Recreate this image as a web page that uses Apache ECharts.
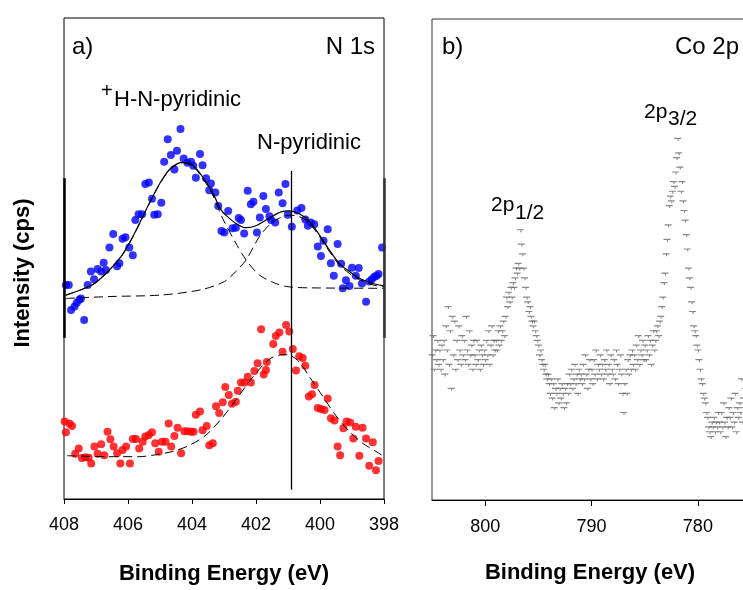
<!DOCTYPE html>
<html>
<head>
<meta charset="utf-8">
<script src="https://cdn.jsdelivr.net/npm/echarts@6/dist/echarts.min.js"></script>
<style>
  html, body { margin: 0; padding: 0; background: #fff; }
  #chart { width: 743px; height: 590px; }
</style>
</head>
<body>
<div id="chart"></div>
<script>
// ---- N 1s, upper spectrum (blue) : binding energy (eV) / intensity (offset units)
const n1sUpperEnergy = [
  407.94,407.85,407.78,407.67,407.60,407.52,407.47,407.37,407.26,407.16,
  407.06,406.95,406.84,406.76,406.69,406.58,406.46,406.34,406.27,406.17,
  406.08,405.96,405.85,405.77,405.67,405.56,405.46,405.35,405.25,405.18,
  405.07,404.96,404.87,404.76,404.66,404.55,404.47,404.36,404.26,404.14,
  404.03,403.96,403.88,403.75,403.67,403.56,403.46,403.41,403.27,403.18,
  403.08,402.99,402.87,402.73,402.63,402.54,402.47,402.37,402.26,402.16,
  402.08,401.97,401.88,401.77,401.69,401.58,401.53,401.40,401.29,401.17,
  401.08,401.01,400.88,400.71,400.58,400.46,400.38,400.29,400.18,400.07,
  399.97,399.89,399.76,399.66,399.57,399.45,399.34,399.29,399.19,399.08,
  399.00,398.88,398.79,398.69,398.56,398.46,398.38,398.30,398.23,398.17,398.06
];
const n1sUpperCounts = [
  44.5,44.5,39.3,40.0,40.8,41.4,41.7,37.2,44.5,47.3,
  45.7,47.8,47.3,49.1,47.6,52.3,55.1,48.4,49.0,54.1,
  54.4,52.3,50.7,58.0,59.2,59.2,65.5,65.8,62.4,59.1,
  59.2,61.6,70.1,74.8,71.5,68.5,72.4,76.9,70.8,69.9,
  70.1,69.3,66.8,71.7,69.4,66.7,64.2,65.6,63.7,60.9,
  55.7,55.4,59.9,56.3,56.4,58.4,58.0,55.2,64.1,61.3,
  61.8,55.4,58.5,63.0,60.3,58.8,58.0,57.5,63.7,61.5,
  65.5,59.1,56.6,60.0,60.5,58.1,56.8,57.5,57.1,52.5,
  50.5,53.7,56.1,49.0,46.4,53.0,48.9,43.8,45.5,44.3,
  48.1,46.4,48.0,44.8,41.0,45.2,45.7,46.2,46.4,46.8,52.3
];

// ---- N 1s, lower spectrum (red)
const n1sLowerEnergy = [
  407.98,407.94,407.83,407.75,407.65,407.54,407.44,407.33,407.23,407.15,
  407.05,406.95,406.84,406.74,406.64,406.55,406.45,406.34,406.24,406.17,
  406.06,405.94,405.85,405.75,405.65,405.54,405.46,405.35,405.25,405.15,
  405.04,404.94,404.83,404.73,404.65,404.55,404.45,404.34,404.24,404.14,
  404.03,403.95,403.88,403.75,403.67,403.54,403.46,403.35,403.25,403.15,
  403.04,402.96,402.85,402.75,402.63,402.57,402.47,402.36,402.26,402.16,
  402.05,401.95,401.84,401.76,401.69,401.66,401.46,401.38,401.27,401.17,
  401.06,400.96,400.85,400.75,400.65,400.54,400.46,400.35,400.25,400.17,
  400.07,399.97,399.86,399.76,399.66,399.55,399.45,399.37,399.27,399.17,
  399.06,398.96,398.88,398.77,398.67,398.56,398.46,398.35,398.25,398.17
];
const n1sLowerCounts = [
  16.1,13.9,15.7,15.2,9.4,10.5,8.5,8.7,8.6,7.4,
  10.9,9.4,11.4,9.1,14.0,12.4,10.9,9.5,7.4,10.2,
  10.9,7.4,12.5,12.5,10.5,11.9,13.0,13.3,13.9,11.6,
  9.8,11.9,11.9,15.7,10.9,13.1,14.8,9.5,14.1,14.1,
  14.0,14.0,17.5,18.2,14.3,15.2,11.2,11.6,19.3,17.9,
  20.1,23.3,21.6,19.8,20.2,22.5,24.2,24.2,25.4,24.2,
  26.6,28.2,35.3,25.9,26.8,28.5,32.2,33.9,34.6,30.6,
  36.2,34.8,31.2,26.7,29.7,29.3,27.7,21.3,21.8,23.7,
  18.9,18.7,18.5,20.9,16.8,16.3,10.9,9.1,14.7,16.1,
  15.9,12.6,15.0,9.0,14.8,12.6,6.9,11.8,6.0,7.9
];

// ---- fitted curves for the upper spectrum (envelope and two components)
const upperFitEnergy = [
  407.94,407.47,407.05,406.63,406.22,405.91,405.59,405.28,404.97,404.66,
  404.29,403.98,403.67,403.35,403.09,402.94,402.63,402.31,402.00,401.58,
  401.22,400.96,400.65,400.33,400.02,399.71,399.40,399.08,398.77,398.35,398.00
];
const upperFitEnvelope = [
  42.4,43.5,44.8,47.3,50.4,53.8,58.0,62.2,66.0,68.8,
  70.0,69.4,67.0,63.6,60.1,59.0,57.3,56.4,56.8,58.4,
  59.7,59.9,59.3,57.7,54.9,51.8,49.0,47.3,45.9,44.8,44.3
];
const protonatedEnergy = [
  407.94,407.47,407.05,406.63,406.22,405.91,405.59,405.28,404.97,404.66,
  404.29,403.98,403.67,403.35,403.04,402.63,402.31,401.90,401.38,400.96,400.33,398.00
];
const protonatedCounts = [
  42.4,43.5,44.8,47.2,50.3,53.7,57.9,62.1,65.9,68.7,
  69.9,69.2,66.7,63.2,58.3,53.2,49.7,46.6,44.8,44.1,43.9,43.8
];
const pyridinicEnergy = [
  407.94,406.53,404.97,403.72,402.99,402.63,402.31,401.90,401.58,401.27,
  400.96,400.65,400.33,400.02,399.71,399.40,399.08,398.77,398.35,398.00
];
const pyridinicCounts = [
  41.7,42.1,42.4,43.5,45.2,47.3,49.7,54.5,57.0,58.4,
  59.0,58.7,57.3,54.6,51.5,48.7,46.9,45.6,44.5,44.1
];

// ---- fitted curve for the lower spectrum
const lowerFitEnergy = [
  407.90,406.69,405.65,405.13,404.60,404.10,403.56,403.04,402.63,402.20,401.80,
  401.50,401.17,400.96,400.65,400.33,399.92,399.50,399.08,398.67,398.25,398.00
];
const lowerFitCounts = [
  9.0,8.8,8.8,9.2,9.9,11.1,13.3,17.0,20.6,24.5,27.7,
  29.4,30.0,29.9,28.5,25.4,21.4,17.3,14.0,11.6,9.9,8.8
];

// reference position of the pyridinic N peak
const pyridinicLine = { energy: 400.9, from: 1.9, to: 68.2 };
// bounds of the upper spectrum's own frame
const upperFrame = { from: 33.5, to: 66.7 };

// ---- Co 2p spectrum, sampled every 0.1 eV starting at 805.0 eV
const coStartEnergy = 805.0;
const coStep = 0.1;
const coCounts = [
  30,34,27,31,29,33,28,31,27,32,
  29,33,26,36,31,40,28,35,23,38,
  30,37,27,33,29,36,31,28,34,30,
  33,29,38,31,28,35,30,32,27,33,
  30,28,33,29,31,27,32,30,28,31,
  29,33,30,35,28,32,36,30,33,31,
  33,31,35,32,36,33,35,37,34,38,
  42,40,43,41,44,42,45,44,46,48,
  47,49,48,56,53,51,48,46,44,42,
  41,39,40,38,37,36,37,35,34,33,
  32,30,31,29,28,27,28,26,25,26,
  24,22,25,21,24,19,23,22,25,20,
  23,21,24,22,19,23,20,24,22,26,
  24,27,23,25,28,24,26,22,27,25,
  26,24,28,25,30,26,23,27,29,25,
  27,24,29,26,31,25,28,27,30,26,
  28,25,29,27,31,26,28,24,30,27,
  26,29,25,31,28,24,27,30,26,22,
  18,24,27,22,29,26,30,27,31,28,
  30,27,32,29,34,28,31,30,33,29,
  32,29,31,34,30,33,28,32,35,31,
  33,35,36,34,37,38,40,42,45,47,
  51,54,57,61,63,62,64,66,65,68,
  71,75,72,69,64,66,62,60,58,55,
  52,48,46,44,41,39,36,35,34,32,
  31,29,27,25,24,22,21,20,18,17,
  15,14,13,16,15,17,14,16,15,18,
  16,14,18,15,20,16,13,17,15,19,
  17,21,15,18,16,22,14,19,17,20,
  18,25,16,21,19,23,17
];
const coTicks = [800, 790, 780];

const FONT = "'Liberation Sans', Arial, sans-serif";

function pairs(xs, ys) { return xs.map((x, i) => [x, ys[i]]); }
const coData = coCounts.map((c, i) => [+(coStartEnergy - i * coStep).toFixed(2), c]);

const axisCommon = {
  type: 'value',
  inverse: true,
  splitLine: { show: false },
  axisLine: { show: true, lineStyle: { color: '#000', width: 1 } },
  axisTick: { show: true, inside: false, length: 5, lineStyle: { color: '#000' } },
  axisLabel: { color: '#000', fontSize: 18, fontFamily: FONT, margin: 17 },
  nameTextStyle: { color: '#000', fontSize: 22, fontWeight: 'bold', fontFamily: FONT }
};

const dashed = { color: '#000', width: 1, type: [9, 5] };

const option = {
  animation: false,
  backgroundColor: '#fff',
  grid: [
    { left: 64, top: 18, width: 320, height: 481, outerBoundsMode: 'none',
      show: true, borderColor: '#000', borderWidth: 1, backgroundColor: 'transparent' },
    // the Co 2p frame runs on past the right edge of the page
    { left: 432, top: 19, width: 340, height: 481, outerBoundsMode: 'none',
      show: true, borderColor: '#333', borderWidth: 1, backgroundColor: 'transparent' }
  ],
  xAxis: [
    Object.assign({}, axisCommon, {
      gridIndex: 0, min: 398, max: 408, interval: 2,
      name: 'Binding Energy (eV)', nameLocation: 'middle', nameGap: 64
    }),
    Object.assign({}, axisCommon, {
      gridIndex: 1, min: 773.03, max: 805,
      axisTick: { show: true, length: 6, lineStyle: { color: '#000' }, customValues: coTicks },
      axisLabel: { color: '#000', fontSize: 18, fontFamily: FONT, margin: 18, customValues: coTicks }
    })
  ],
  yAxis: [
    { type: 'value', gridIndex: 0, min: 0, max: 100, show: false },
    { type: 'value', gridIndex: 1, min: 0, max: 100, show: false }
  ],
  series: [
    {
      name: 'N 1s upper fit', type: 'line', xAxisIndex: 0, yAxisIndex: 0,
      data: pairs(upperFitEnergy, upperFitEnvelope), smooth: 0.3, symbol: 'none',
      lineStyle: { color: '#000', width: 1.2 }, z: 3,
      markLine: {
        silent: true, symbol: 'none', label: { show: false },
        data: [
          [{ coord: [pyridinicLine.energy, pyridinicLine.from], lineStyle: { color: '#000', width: 1.3, type: 'solid' } },
           { coord: [pyridinicLine.energy, pyridinicLine.to] }],
          [{ coord: [408, upperFrame.from], lineStyle: { color: '#000', width: 2.5, type: 'solid' } },
           { coord: [408, upperFrame.to] }],
          [{ coord: [398, upperFrame.from], lineStyle: { color: '#333', width: 2.5, type: 'solid' } },
           { coord: [398, upperFrame.to] }]
        ]
      }
    },
    {
      name: '+H-N-pyridinic', type: 'line', xAxisIndex: 0, yAxisIndex: 0,
      data: pairs(protonatedEnergy, protonatedCounts), smooth: 0.3, symbol: 'none',
      lineStyle: dashed, z: 3
    },
    {
      name: 'N-pyridinic', type: 'line', xAxisIndex: 0, yAxisIndex: 0,
      data: pairs(pyridinicEnergy, pyridinicCounts), smooth: 0.3, symbol: 'none',
      lineStyle: dashed, z: 3
    },
    {
      name: 'N 1s lower fit', type: 'line', xAxisIndex: 0, yAxisIndex: 0,
      data: pairs(lowerFitEnergy, lowerFitCounts), smooth: 0.3, symbol: 'none',
      lineStyle: dashed, z: 3
    },
    {
      name: 'N 1s upper', type: 'scatter', xAxisIndex: 0, yAxisIndex: 0,
      data: pairs(n1sUpperEnergy, n1sUpperCounts), symbolSize: 8,
      itemStyle: { color: '#0000ff' }, z: 2
    },
    {
      name: 'N 1s lower', type: 'scatter', xAxisIndex: 0, yAxisIndex: 0,
      data: pairs(n1sLowerEnergy, n1sLowerCounts), symbolSize: 8,
      itemStyle: { color: '#ff0000' }, z: 2
    },
    {
      name: 'Co 2p', type: 'scatter', xAxisIndex: 1, yAxisIndex: 1,
      data: coData,
      symbol: 'path://M0,0L10,0L10,2L0,2Z M5,2L6.5,2L6.5,5L5,5Z',
      symbolSize: [7, 3],
      itemStyle: { color: '#6a6a6a' }
    }
  ],
  graphic: [
    { type: 'text', x: 23, y: 273, rotation: Math.PI / 2,
      style: { text: 'Intensity (cps)', font: 'bold 22px ' + FONT, fill: '#000', align: 'center', verticalAlign: 'middle' } },
    { type: 'text', x: 590, y: 573,
      style: { text: 'Binding Energy (eV)', font: 'bold 22px ' + FONT, fill: '#000', align: 'center', verticalAlign: 'middle' } },
    { type: 'text', x: 72, y: 47, style: { text: 'a)', font: '24px ' + FONT, fill: '#000', align: 'left', verticalAlign: 'middle' } },
    { type: 'text', x: 375, y: 47, style: { text: 'N 1s', font: '24px ' + FONT, fill: '#000', align: 'right', verticalAlign: 'middle' } },
    { type: 'text', x: 101, y: 91, style: { text: '+', font: '20px ' + FONT, fill: '#000', align: 'left', verticalAlign: 'middle' } },
    { type: 'text', x: 114, y: 100, style: { text: 'H-N-pyridinic', font: '22px ' + FONT, fill: '#000', align: 'left', verticalAlign: 'middle' } },
    { type: 'text', x: 257, y: 143, style: { text: 'N-pyridinic', font: '22px ' + FONT, fill: '#000', align: 'left', verticalAlign: 'middle' } },
    { type: 'text', x: 442, y: 47, style: { text: 'b)', font: '24px ' + FONT, fill: '#000', align: 'left', verticalAlign: 'middle' } },
    { type: 'text', x: 675, y: 47, style: { text: 'Co 2p', font: '24px ' + FONT, fill: '#000', align: 'left', verticalAlign: 'middle' } },
    { type: 'text', x: 491, y: 205, style: { text: '2p', font: '21px ' + FONT, fill: '#000', align: 'left', verticalAlign: 'middle' } },
    { type: 'text', x: 515, y: 213, style: { text: '1/2', font: '21px ' + FONT, fill: '#000', align: 'left', verticalAlign: 'middle' } },
    { type: 'text', x: 644, y: 112, style: { text: '2p', font: '21px ' + FONT, fill: '#000', align: 'left', verticalAlign: 'middle' } },
    { type: 'text', x: 668, y: 119, style: { text: '3/2', font: '21px ' + FONT, fill: '#000', align: 'left', verticalAlign: 'middle' } }
  ]
};

const chart = echarts.init(document.getElementById('chart'), null, { renderer: 'canvas' });
chart.setOption(option);
</script>
</body>
</html>
